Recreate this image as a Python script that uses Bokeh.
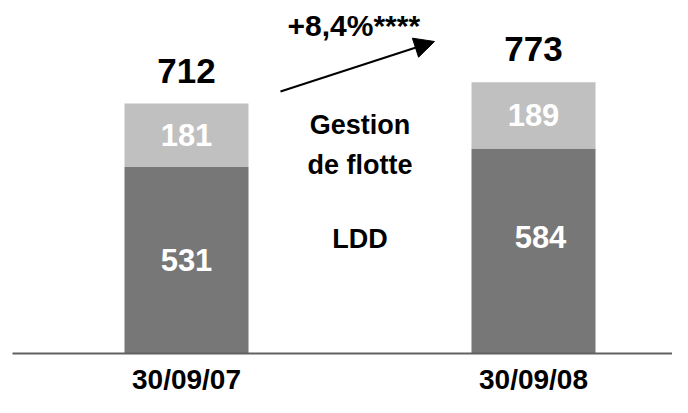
from bokeh.plotting import figure
from bokeh.models import Range1d, ColumnDataSource, Arrow, NormalHead
from bokeh.core.properties import value
from bokeh.embed import file_html
from bokeh.resources import INLINE

# ---- data ----
categories = ["30/09/07", "30/09/08"]
ldd = [531, 584]
gestion = [181, 189]
growth_label = "+8,4%****"
segment_names = ["Gestion", "de flotte", "LDD"]

totals = [a + b for a, b in zip(ldd, gestion)]
idx = list(range(len(categories)))

# ---- layout ----
W, H = 672, 397
PPX = 347.0           # pixels per category step
X0 = -186 / PPX       # data x at left edge (first bar centred at 186 px)
PPY = 0.351           # pixels per unit
BASE_PX = 353         # baseline position from top of figure
YTOP = BASE_PX / PPY
YBOT = -(H - BASE_PX) / PPY


def X(sx):
    return X0 + sx / PPX


def Y(sy):
    return YTOP - sy / PPY


FONT = value("Liberation Sans")
DARK = "#777777"
LIGHT = "#c0c0c0"

p = figure(width=W, height=H, output_backend="svg", toolbar_location=None,
           x_range=Range1d(X0, X0 + W / PPX), y_range=Range1d(YBOT, YTOP),
           min_border=0, outline_line_color=None, background_fill_color="white",
           border_fill_color="white")
p.axis.visible = False
p.grid.visible = False

bw = 124 / PPX
src = ColumnDataSource(dict(
    x=idx, ldd=ldd, gestion=gestion, total=totals,
))

p.vbar(x="x", width=bw, bottom=0, top="ldd", source=src, fill_color=DARK, line_color=None)
p.vbar(x="x", width=bw, bottom="ldd", top="total", source=src, fill_color=LIGHT, line_color=None)

# baseline
p.segment(x0=X(12), y0=0, x1=X(700), y1=0, line_color="#606060", line_width=2)

TXT = dict(text_font=FONT, text_font_style="bold", text_align="center",
           text_baseline="middle")

# segment value labels (centred in the segments)
ldd_adj = [0, 14 / PPY]
ldd_dx = [0, 7]
src_l = ColumnDataSource(dict(
    x=idx, y=[v / 2 + a for v, a in zip(ldd, ldd_adj)],
    t=[str(v) for v in ldd], dx=ldd_dx))
p.text(x="x", y="y", text="t", x_offset="dx", source=src_l,
       text_font_size="31px", text_color="white", **TXT)
src_g = ColumnDataSource(dict(
    x=idx, y=[a + b / 2 for a, b in zip(ldd, gestion)],
    t=[str(v) for v in gestion]))
p.text(x="x", y="y", text="t", source=src_g,
       text_font_size="31px", text_color="white", **TXT)

# totals
src_t = ColumnDataSource(dict(
    x=idx, y=[t + 33 / PPY for t in totals], t=[str(v) for v in totals]))
p.text(x="x", y="y", text="t", source=src_t,
       text_font_size="35px", text_color="black", **TXT)

# category labels
src_c = ColumnDataSource(dict(x=idx, y=[Y(379)] * len(idx), t=categories))
p.text(x="x", y="y", text="t", source=src_c,
       text_font_size="28px", text_color="black", **TXT)

# segment names in the middle
mid_x = (idx[0] + idx[-1]) / 2
src_n = ColumnDataSource(dict(x=[mid_x] * 3, y=[Y(124), Y(164), Y(238)], t=segment_names))
p.text(x="x", y="y", text="t", source=src_n,
       text_font_size="27px", text_color="black", **TXT)

# growth label and arrow
src_gr = ColumnDataSource(dict(x=[X(287)], y=[Y(25)], t=[growth_label]))
p.text(x="x", y="y", text="t", source=src_gr, text_font=FONT, text_font_style="bold",
       text_align="left", text_baseline="middle",
       text_font_size="30px", text_color="black")
p.add_layout(Arrow(end=NormalHead(size=20, fill_color="black", line_color="black"),
                   x_start=X(280), y_start=Y(91), x_end=X(434), y_end=Y(41),
                   line_width=2, line_color="black"))

open("out.html", "w").write(file_html(p, INLINE))
